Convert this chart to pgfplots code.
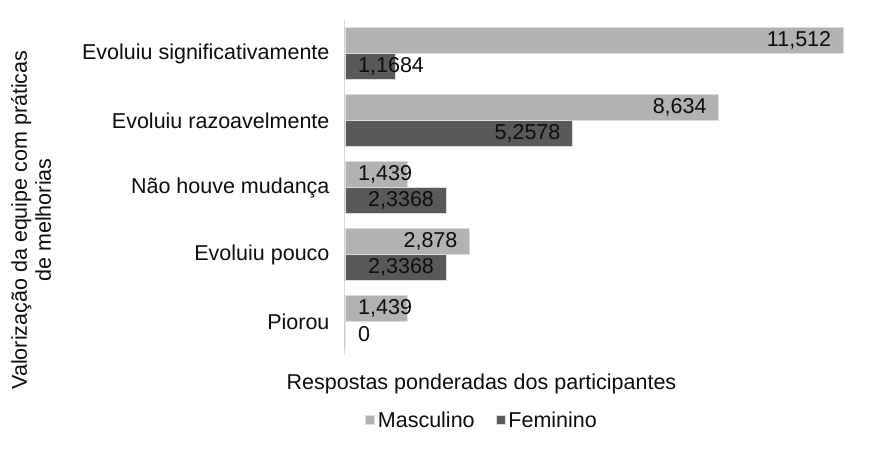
\documentclass[border=0pt]{standalone}
\usepackage{pgfplots}
\pgfplotsset{compat=1.18}
\usepackage{pgfplotstable}
\usepackage{fontspec}
\setmainfont{Liberation Sans}
\definecolor{masc}{RGB}{178,178,178}
\definecolor{fem}{RGB}{89,89,89}
\definecolor{edge}{RGB}{220,220,220}
\definecolor{axisline}{RGB}{217,217,217}
\definecolor{txt}{RGB}{13,13,13}

% bar values
\pgfplotstableread{
y  val
4  11.512
3  8.634
2  1.439
1  2.878
0  1.439
}\masctab
\pgfplotstableread{
y  val
4  1.1684
3  5.2578
2  2.3368
1  2.3368
0  0
}\femtab
% labels placed at bar end (inside end)
\pgfplotstableread{
y  val    lab
4  11.512 {11,512}
3  8.634  {8,634}
1  2.878  {2,878}
}\mascEast
\pgfplotstableread{
y  val    lab
3  5.2578 {5,2578}
2  2.3368 {2,3368}
1  2.3368 {2,3368}
}\femEast
% labels of short bars, placed from the axis
\pgfplotstableread{
y  val  lab
2  0.3  {1,439}
0  0.3  {1,439}
}\mascWest
\pgfplotstableread{
y  val  lab
4  0.3  {1,1684}
0  0.3  {0}
}\femWest

\begin{document}
\begin{tikzpicture}[font=\fontsize{21.5}{24}\selectfont, text=txt]
\useasboundingbox (0pt,0pt) rectangle (878pt,-453pt);
\begin{axis}[
  at={(345pt,-355pt)}, anchor=south west,
  scale only axis,
  width=500pt, height=335pt,
  xmin=0, xmax=11.55,
  ymin=-0.5, ymax=4.5,
  xbar, bar width=26pt,
  axis x line=bottom,
  axis y line=left,
  axis line style={-, draw=axisline, line width=1pt},
  x axis line style={draw=none},
  xtick=\empty,
  ytick={0,1,2,3,4},
  yticklabels={Piorou, Evoluiu pouco, Não houve mudança, Evoluiu razoavelmente, Evoluiu significativamente},
  major tick length=0pt,
  yticklabel style={xshift=-12pt, text=txt},
  xlabel={Respostas ponderadas dos participantes},
  xlabel style={at={(axis description cs:0.273,-0.0866)}, anchor=center, text=txt},
  ylabel={Valorização da equipe com práticas\\de melhorias},
  ylabel style={at={(axis description cs:-0.628,0.403)}, anchor=center, align=center, text=txt},
  legend columns=2,
  legend style={at={(axis description cs:0.275,-0.194)}, anchor=center, draw=none, fill=none,
    /tikz/every even column/.append style={column sep=18pt},
    nodes={inner sep=3pt}},
  legend image code/.code={\fill[#1] (0pt,-4.5pt) rectangle (9pt,4.5pt);},
  clip=false,
]
\addplot[fill=masc, draw=edge, line width=0.75pt, bar shift=13pt] table[x=val, y=y] {\masctab};
\addplot[fill=fem, draw=edge, line width=0.75pt, bar shift=-13pt] table[x=val, y=y] {\femtab};
\legend{Masculino, Feminino}
% labels
\addplot[draw=none, fill=none, bar shift=13pt, forget plot,
  nodes near coords={\pgfplotspointmeta}, point meta=explicit symbolic,
  every node near coord/.append style={anchor=east, xshift=-12pt, inner sep=0pt, text=txt}]
  table[x=val, y=y, meta=lab] {\mascEast};
\addplot[draw=none, fill=none, bar shift=-13pt, forget plot,
  nodes near coords={\pgfplotspointmeta}, point meta=explicit symbolic,
  every node near coord/.append style={anchor=east, xshift=-12pt, inner sep=0pt, text=txt}]
  table[x=val, y=y, meta=lab] {\femEast};
\addplot[draw=none, fill=none, bar shift=13pt, forget plot,
  nodes near coords={\pgfplotspointmeta}, point meta=explicit symbolic,
  every node near coord/.append style={anchor=west, inner sep=0pt, text=txt}]
  table[x=val, y=y, meta=lab] {\mascWest};
\addplot[draw=none, fill=none, bar shift=-13pt, forget plot,
  nodes near coords={\pgfplotspointmeta}, point meta=explicit symbolic,
  every node near coord/.append style={anchor=west, inner sep=0pt, text=txt}]
  table[x=val, y=y, meta=lab] {\femWest};
\end{axis}
\end{tikzpicture}
\end{document}
